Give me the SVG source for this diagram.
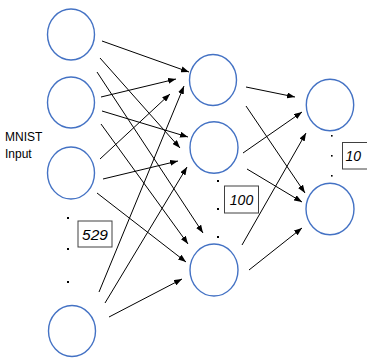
<svg xmlns="http://www.w3.org/2000/svg" width="367" height="358" viewBox="0 0 367 358">
<style>
.n{fill:#fff;stroke:#4472C4;stroke-width:1.4}
.c line{stroke:#000;stroke-width:1;marker-end:url(#ah)}
.d{fill:#000}
.bx{fill:#fff;stroke:#404040;stroke-width:1}
.lb{font-family:"Liberation Sans",Arial,sans-serif;font-style:italic;fill:#000}
.t{font-family:"Liberation Sans",Arial,sans-serif;font-size:12px;fill:#000}
</style>
<defs>
<marker id="ah" markerUnits="userSpaceOnUse" markerWidth="8" markerHeight="6" refX="8" refY="3" orient="auto">
<path d="M0,0 L8,3 L0,6 z" fill="#000"/>
</marker>
</defs>
<rect width="367" height="358" fill="#fff"/>
<g class="c" id="connectors">
<line x1="102" y1="41" x2="189" y2="72"/>
<line x1="100" y1="58" x2="180" y2="148"/>
<line x1="97" y1="72" x2="203" y2="233"/>
<line x1="101" y1="97" x2="176" y2="79"/>
<line x1="102" y1="111" x2="188" y2="137"/>
<line x1="101" y1="124" x2="188" y2="244"/>
<line x1="100" y1="159" x2="170" y2="94"/>
<line x1="103" y1="179" x2="178" y2="161"/>
<line x1="97" y1="193" x2="186" y2="262"/>
<line x1="99" y1="292" x2="184" y2="86"/>
<line x1="105" y1="303" x2="187" y2="167"/>
<line x1="109" y1="317" x2="182" y2="279"/>
<line x1="246" y1="87" x2="295" y2="97"/>
<line x1="246" y1="106" x2="305" y2="193"/>
<line x1="243" y1="153" x2="302" y2="112"/>
<line x1="247" y1="169" x2="302" y2="202"/>
<line x1="242" y1="245" x2="306" y2="133"/>
<line x1="249" y1="270" x2="302" y2="228"/>
</g>
<g id="in1"><ellipse class="n" cx="71" cy="34.5" rx="23.5" ry="25.5"/></g>
<g id="in2"><ellipse class="n" cx="71" cy="102.5" rx="23.5" ry="25.5"/></g>
<g id="in3"><ellipse class="n" cx="71" cy="173" rx="23.5" ry="26"/></g>
<g id="in4"><ellipse class="n" cx="72" cy="331" rx="23.5" ry="25.5"/></g>
<g id="h1"><ellipse class="n" cx="213" cy="80" rx="23.5" ry="25.5"/></g>
<g id="h2"><ellipse class="n" cx="214" cy="147.5" rx="24" ry="25.8"/></g>
<g id="h3"><ellipse class="n" cx="214" cy="270" rx="24" ry="26"/></g>
<g id="o1"><ellipse class="n" cx="330" cy="105" rx="23.7" ry="25.7"/></g>
<g id="o2"><ellipse class="n" cx="330" cy="209" rx="24" ry="25.7"/></g>
<g id="dots">
<rect class="d" x="67" y="217" width="2" height="2"/>
<rect class="d" x="67" y="248" width="2" height="2"/>
<rect class="d" x="67" y="281" width="2" height="2"/>
<rect class="d" x="217" y="180" width="2" height="2"/>
<rect class="d" x="217" y="208" width="2" height="2"/>
<rect class="d" x="217" y="236" width="2" height="2"/>
<rect class="d" x="331" y="135" width="1.6" height="1.6"/>
<rect class="d" x="331" y="155" width="1.6" height="1.6"/>
<rect class="d" x="331" y="175" width="1.6" height="1.6"/>
</g>
<g id="label-529">
<rect class="bx" x="78" y="221" width="34" height="26"/>
<text class="lb" x="95" y="240" font-size="15.5" text-anchor="middle">529</text>
</g>
<g id="label-100">
<rect class="bx" x="224.5" y="186" width="34" height="27"/>
<text class="lb" x="241.5" y="205" font-size="14" text-anchor="middle">100</text>
</g>
<g id="label-10">
<rect class="bx" x="342.5" y="142.5" width="30" height="26.5"/>
<text class="lb" x="345.5" y="160.5" font-size="14">10</text>
</g>
<g id="mnist-label">
<text class="t" x="5" y="140.5">MNIST</text>
<text class="t" x="5" y="157.5">Input</text>
</g>
</svg>
